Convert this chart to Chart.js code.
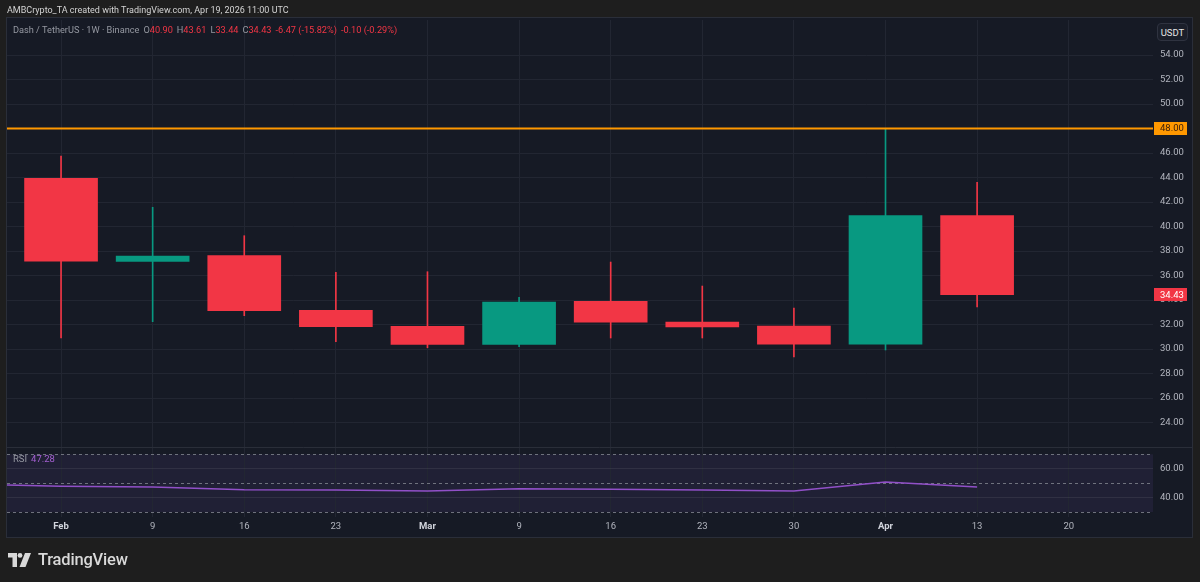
<!DOCTYPE html>
<html>
<head>
<meta charset="utf-8">
<title>Dash / TetherUS 1W</title>
<script src="https://cdn.jsdelivr.net/npm/chart.js@4.4.1/dist/chart.umd.min.js"></script>
<style>
    html, body { margin: 0; padding: 0; background: #1e1e1e; }
    #wrap { position: relative; width: 1200px; height: 582px; overflow: hidden; font-family: Roboto, "Noto Sans", sans-serif; }
    #chart { position: absolute; left: 0; top: 0; }
    .txt { position: absolute; white-space: nowrap; line-height: 1; }
    #header { left: 7px; top: 6px; font-size: 9px; color: #d4d4d4; }
    #legend { left: 13px; top: 25px; font-size: 9.2px; color: #9598a1; }
    #legend .red { color: #f23645; }
    #legend span { margin-right: 4px; }
    #rsiLegend { left: 13px; top: 454px; font-size: 9.5px; color: #9598a1; }
    #rsiLegend .val { color: #a35fd0; margin-left: 4px; }
    #unit { left: 1157px; top: 23px; width: 31px; height: 18px; border: 1px solid #2f3340; border-radius: 4px;
            background: #1b1f2a; color: #e6e6e6; font-size: 9.5px; text-align: center; line-height: 18px; box-sizing: border-box; }
    #logo { left: 8px; top: 551px; height: 18px; display: flex; align-items: center; }
    #logo span { margin-left: 6px; font-size: 16.5px; font-weight: 500; color: #d9d9d9; letter-spacing: -0.2px; }
</style>
</head>
<body>
<div id="wrap">
    <canvas id="chart" width="1200" height="582"></canvas>
    <div class="txt" id="header">AMBCrypto_TA created with TradingView.com, Apr 19, 2026 11:00 UTC</div>
    <div class="txt" id="legend"><span>Dash / TetherUS · 1W · Binance</span><span>O<b class="red" style="font-weight:normal">40.90</b></span><span>H<b class="red" style="font-weight:normal">43.61</b></span><span>L<b class="red" style="font-weight:normal">33.44</b></span><span>C<b class="red" style="font-weight:normal">34.43</b></span><span class="red">-6.47 (-15.82%)</span><span class="red">-0.10 (-0.29%)</span></div>
    <div class="txt" id="rsiLegend">RSI<span class="val">47.28</span></div>
    <div class="txt" id="unit">USDT</div>
    <div class="txt" id="logo">
        <svg width="24" height="14" viewBox="0 0 24 14">
            <path d="M0 0 H9 V14 H4.5 V4.5 H0 Z" fill="#d9d9d9"/>
            <circle cx="12" cy="2.4" r="2.4" fill="#d9d9d9"/>
            <path d="M17 0 H23 L17.5 14 H11.5 Z" fill="#d9d9d9"/>
        </svg>
        <span>TradingView</span>
    </div>
</div>
<script>
// Weekly candles, Dash / TetherUS (Binance)
const weekLabels = ['Feb', '9', '16', '23', 'Mar', '9', '16', '23', '30', 'Apr', '13', '20'];
const openPrices  = [43.93, 37.16, 37.62, 33.16, 31.85, 30.38, 33.90, 32.20, 31.88, 30.40, 40.90];
const highPrices  = [45.76, 41.57, 39.25, 36.26, 36.31, 34.22, 37.10, 35.14, 33.35, 48.00, 43.61];
const lowPrices   = [30.90, 32.23, 32.72, 30.60, 30.10, 30.19, 30.90, 30.90, 29.35, 29.92, 33.44];
const closePrices = [37.18, 37.59, 33.13, 31.82, 30.38, 33.84, 32.20, 31.80, 30.40, 40.90, 34.43];

// RSI values, the first one is the week before Feb
const rsiValues = [49.3, 47.8, 47.3, 45.5, 45.3, 44.6, 46.1, 45.7, 45.3, 44.6, 50.8, 47.28];

const priceTicks = [24, 26, 28, 30, 32, 34, 36, 38, 40, 42, 44, 46, 48, 50, 52, 54];
const rsiTicks = [40, 60];
const rsiBands = [70, 50, 30];
const levelPrice = 48.00;
const lastPrice = 34.43;

const upColor = '#089981';
const downColor = '#f23645';
const gridColor = '#222632';
const textColor = '#b2b5be';
const tickFont = 'Roboto, "Noto Sans", sans-serif';

const candleColors = openPrices.map((o, i) => closePrices[i] >= o ? upColor : downColor);

// Background of the chart frame and the purple RSI band
const paneBackground = {
    id: 'paneBackground',
    beforeDraw(chart) {
        const { ctx, chartArea, scales } = chart;
        const right = scales.price.right;
        const bottom = scales.x.bottom;
        ctx.save();
        ctx.fillStyle = '#1e1e1e';
        ctx.fillRect(0, 0, chart.width, chart.height);
        ctx.fillStyle = '#161a25';
        ctx.fillRect(chartArea.left, chartArea.top - 2, right - chartArea.left, bottom - chartArea.top + 2);
        ctx.strokeStyle = '#2a2e39';
        ctx.lineWidth = 1;
        ctx.strokeRect(chartArea.left - 0.5, chartArea.top - 2.5, right - chartArea.left + 1, bottom - chartArea.top + 3);

        // RSI band fill
        const rsi = scales.rsi;
        const yTop = rsi.getPixelForValue(rsiBands[0]);
        const yBot = rsi.getPixelForValue(rsiBands[2]);
        ctx.fillStyle = 'rgba(126, 87, 194, 0.1)';
        ctx.fillRect(chartArea.left, yTop, chartArea.right - chartArea.left, yBot - yTop);
        ctx.restore();
    },
    beforeDatasetsDraw(chart) {
        const { ctx, chartArea, scales } = chart;
        ctx.save();
        // pane separator
        ctx.strokeStyle = '#2a2e39';
        ctx.beginPath();
        ctx.moveTo(chartArea.left, Math.round(scales.price.bottom) + 0.5);
        ctx.lineTo(scales.price.right, Math.round(scales.price.bottom) + 0.5);
        ctx.stroke();

        // dashed RSI levels
        ctx.strokeStyle = 'rgba(120, 123, 134, 0.9)';
        ctx.setLineDash([3, 3]);
        rsiBands.forEach(v => {
            const y = Math.round(scales.rsi.getPixelForValue(v)) + 0.5;
            ctx.beginPath();
            ctx.moveTo(chartArea.left, y);
            ctx.lineTo(chartArea.right, y);
            ctx.stroke();
        });
        ctx.restore();
    }
};

// Horizontal level at 48 and the price labels on the right axis
const priceMarkers = {
    id: 'priceMarkers',
    afterDatasetsDraw(chart) {
        const { ctx, chartArea, scales } = chart;
        const y = scales.price.getPixelForValue(levelPrice);
        ctx.save();
        ctx.strokeStyle = '#ff9800';
        ctx.lineWidth = 2;
        ctx.beginPath();
        ctx.moveTo(chartArea.left, y);
        ctx.lineTo(chartArea.right, y);
        ctx.stroke();
        ctx.restore();
    },
    afterDraw(chart) {
        const { ctx, scales } = chart;
        const price = scales.price;
        const boxes = [
            { value: levelPrice, bg: '#ff9800', fg: '#3a1d0a' },
            { value: lastPrice, bg: downColor, fg: '#ffffff' }
        ];
        ctx.save();
        ctx.font = '9.5px ' + tickFont;
        ctx.textBaseline = 'middle';
        boxes.forEach(b => {
            const y = price.getPixelForValue(b.value);
            ctx.fillStyle = b.bg;
            ctx.fillRect(price.left + 1, Math.round(y - 6.5), 33, 13);
            ctx.fillStyle = b.fg;
            ctx.fillText(b.value.toFixed(2), price.left + 7, y + 0.5);
        });
        ctx.restore();
    }
};

const ctx = document.getElementById('chart').getContext('2d');
const chart = new Chart(ctx, {
    type: 'bar',
    data: {
        datasets: [
            {
                label: 'Wicks',
                data: highPrices.map((h, i) => ({ x: i, y: [lowPrices[i], h] })),
                backgroundColor: candleColors,
                barThickness: 1,
                yAxisID: 'price',
                order: 2
            },
            {
                label: 'Bodies',
                data: openPrices.map((o, i) => ({ x: i, y: [o, closePrices[i]] })),
                backgroundColor: candleColors,
                barThickness: 73,
                yAxisID: 'price',
                order: 1
            },
            {
                type: 'line',
                label: 'RSI',
                data: rsiValues.map((v, i) => ({ x: i - 1, y: v })),
                borderColor: '#9150c8',
                borderWidth: 1.5,
                pointRadius: 0,
                tension: 0,
                yAxisID: 'rsi',
                order: 0
            }
        ]
    },
    options: {
        responsive: false,
        animation: false,
        devicePixelRatio: 1,
        layout: { padding: { left: 7, right: 8, top: 20, bottom: 45 } },
        datasets: { bar: { grouped: false } },
        plugins: {
            legend: { display: false },
            tooltip: { enabled: false }
        },
        scales: {
            x: {
                type: 'linear',
                position: 'bottom',
                offset: false,
                min: -0.59,
                max: 11.92,
                afterBuildTicks: scale => { scale.ticks = weekLabels.map((_, i) => ({ value: i })); },
                afterFit: scale => { scale.height = 20; },
                grid: { color: gridColor, drawTicks: false, offset: false },
                border: { display: false },
                ticks: {
                    callback: v => weekLabels[v],
                    color: c => isNaN(Number(weekLabels[c.index])) ? '#d1d4dc' : textColor,
                    font: c => ({ family: tickFont, size: 9.5, weight: isNaN(Number(weekLabels[c.index])) ? 'bold' : 'normal' }),
                    padding: 4,
                    maxRotation: 0,
                    autoSkip: false
                }
            },
            price: {
                type: 'linear',
                position: 'right',
                stack: 'panes',
                stackWeight: 427,
                min: 22.0,
                max: 56.86,
                afterBuildTicks: scale => { scale.ticks = priceTicks.map(v => ({ value: v })); },
                afterFit: scale => { scale.width = 39; },
                grid: { color: gridColor, drawTicks: false },
                border: { display: false },
                ticks: {
                    callback: v => v.toFixed(2),
                    color: textColor,
                    font: { family: tickFont, size: 9.5 },
                    padding: 7
                }
            },
            rsi: {
                type: 'linear',
                position: 'right',
                stack: 'panes',
                stackWeight: 70,
                min: 26.53,
                max: 75.06,
                afterBuildTicks: scale => { scale.ticks = rsiTicks.map(v => ({ value: v })); },
                afterFit: scale => { scale.width = 39; },
                grid: { color: 'rgba(120, 123, 134, 0.18)', drawTicks: false },
                border: { display: false },
                ticks: {
                    callback: v => v.toFixed(2),
                    color: textColor,
                    font: { family: tickFont, size: 9.5 },
                    padding: 7
                }
            }
        }
    },
    plugins: [paneBackground, priceMarkers]
});
</script>
</body>
</html>
